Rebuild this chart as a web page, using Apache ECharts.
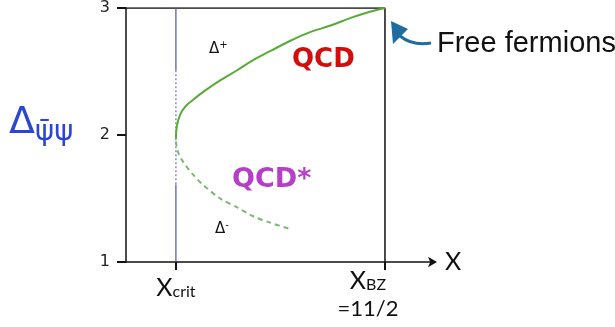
<!DOCTYPE html>
<html>
<head>
<meta charset="utf-8">
<script src="https://cdn.jsdelivr.net/npm/echarts@6/dist/echarts.min.js"></script>
<style>
  html, body { margin: 0; padding: 0; background: #fff; }
  #main { width: 615px; height: 327px; }
</style>
</head>
<body>
<div id="main"></div>
<script>
// axis landmarks (x in units where x_BZ = 11/2)
const xCrit = 1.06;
const xBZ = 5.5;
const xEnd = 6.52;
const yTicks = [1, 2, 3];

// Delta+ branch (QCD), solid
const deltaPlus = [
  [1.06, 1.97], [1.08, 2.07], [1.15, 2.16], [1.25, 2.22], [1.40, 2.27],
  [1.64, 2.34], [2.00, 2.43], [2.36, 2.51], [2.70, 2.59], [3.06, 2.66],
  [3.48, 2.74], [3.91, 2.81], [4.33, 2.86], [4.76, 2.92], [5.18, 2.97],
  [5.50, 3.00]
];
// Delta- branch (QCD*), dashed
const deltaMinus = [
  [1.06, 1.95], [1.10, 1.87], [1.21, 1.79], [1.42, 1.69], [1.63, 1.61],
  [2.00, 1.50], [2.36, 1.43], [2.70, 1.36], [3.06, 1.31], [3.48, 1.26]
];
// x_crit vertical line: solid / dotted / solid pieces
const critBreaks = [3, 2.51, 1.61, 1];

const chart = echarts.init(document.getElementById('main'));

function plain(data, color, type, width) {
  return {
    type: 'line', data: data, symbol: 'none', silent: true,
    lineStyle: { color: color, width: width, type: type }
  };
}

const green = Object.assign(plain(deltaPlus, '#58ab38', 'solid', 2), { smooth: 0.4 });
const greenDash = Object.assign(plain(deltaMinus, '#7db873', [5, 4], 2), { smooth: 0.3 });

chart.setOption({
  animation: false,
  grid: { left: 126, top: 4, right: 182, bottom: 65 },
  xAxis: {
    type: 'value', min: 0, max: xEnd,
    splitLine: { show: false },
    axisLine: { lineStyle: { color: '#111', width: 1.5 }, symbol: ['none', 'arrow'], symbolSize: [8, 9], symbolOffset: [0, 4] },
    axisTick: { customValues: [xCrit, xBZ], length: 8, lineStyle: { color: '#111', width: 2 } },
    axisLabel: {
      customValues: [xCrit, xBZ],
      margin: 6,
      formatter: function (v) {
        return v < 3 ? '{xc|X}{sc|crit}' : '{x|X}{s|BZ}{g|}\n{e|=11/2}{g|}';
      },
      rich: {
        xc: { fontFamily: 'Lato', fontSize: 25, color: '#111', lineHeight: 26, padding: [14, 0, 0, 0] },
        sc: { fontFamily: 'Lato', fontSize: 16, color: '#111', lineHeight: 26, padding: [22, 0, 0, 0] },
        x: { fontFamily: 'Lato', fontSize: 25, color: '#111', lineHeight: 26 },
        s: { fontFamily: 'Lato', fontSize: 16, color: '#111', lineHeight: 26, padding: [8, 0, 0, 0] },
        e: { fontFamily: 'Lato', fontSize: 22, color: '#111', lineHeight: 30 },
        g: { width: 34 }
      }
    },
    name: 'X', nameGap: 12,
    nameTextStyle: { fontFamily: 'Lato', fontSize: 25, color: '#111', verticalAlign: 'middle', padding: [26, 0, 0, 0] }
  },
  yAxis: {
    type: 'value', min: 1, max: 3, interval: 1,
    splitLine: { show: false },
    axisLine: { lineStyle: { color: '#111', width: 1.5 } },
    axisTick: { length: 9, lineStyle: { color: '#111', width: 2 } },
    axisLabel: {
      margin: 16, fontFamily: 'DejaVu Sans', fontSize: 16, color: '#222',
      formatter: function (v) { return yTicks.indexOf(v) >= 0 ? String(v) : ''; }
    }
  },
  series: [
    plain([[0, 3], [xBZ, 3], [xBZ, 1]], '#111', 'solid', 1.5),
    plain([[xCrit, critBreaks[0]], [xCrit, critBreaks[1]]], '#4b4fb0', 'solid', 1.2),
    plain([[xCrit, critBreaks[1]], [xCrit, critBreaks[2]]], '#6c70c4', [2, 2], 1.2),
    plain([[xCrit, critBreaks[2]], [xCrit, critBreaks[3]]], '#4b4fb0', 'solid', 1.2),
    green,
    greenDash
  ],
  graphic: [
    // y-axis name: Delta with psi-bar psi subscript
    { type: 'text', left: 9, top: 100, style: { text: '{d|Δ}{p|ψ̄ψ}', rich: {
      d: { fontFamily: 'DejaVu Sans', fontSize: 38, fill: '#2b45d4', lineHeight: 42 },
      p: { fontFamily: 'DejaVu Sans', fontSize: 29, fill: '#2b45d4', padding: [18, 0, 0, 0], lineHeight: 42 } } } },
    { type: 'text', left: 209, top: 40, style: { text: '{d|Δ}{s|+}', rich: {
      d: { fontFamily: 'DejaVu Sans', fontSize: 15, fill: '#111' },
      s: { fontFamily: 'DejaVu Sans', fontSize: 10, fill: '#111', padding: [0, 0, 8, 0] } } } },
    { type: 'text', left: 215, top: 220, style: { text: '{d|Δ}{s|-}', rich: {
      d: { fontFamily: 'DejaVu Sans', fontSize: 15, fill: '#111' },
      s: { fontFamily: 'DejaVu Sans', fontSize: 10, fill: '#111', padding: [0, 0, 8, 0] } } } },
    { type: 'text', left: 292, top: 47, style: { text: 'QCD', font: 'bold 26px "DejaVu Sans"', fill: '#d10d0d' } },
    { type: 'text', left: 232, top: 166, style: { text: 'QCD*', font: 'bold 27px "DejaVu Sans"', fill: '#b63fc8' } },
    { type: 'text', left: 437, top: 29, style: { text: 'Free fermions', font: '29px "Liberation Sans"', fill: '#111' } },
    { type: 'polygon', shape: { points: [[391, 21], [393, 44], [408, 29]] }, style: { fill: '#1f6d9e' } },
    { type: 'bezierCurve', shape: { x1: 400, y1: 36, cpx1: 410, cpy1: 44, cpx2: 420, cpy2: 45, x2: 431, y2: 43 },
      style: { stroke: '#1f6d9e', lineWidth: 3, fill: null } }
  ]
});
</script>
</body>
</html>
